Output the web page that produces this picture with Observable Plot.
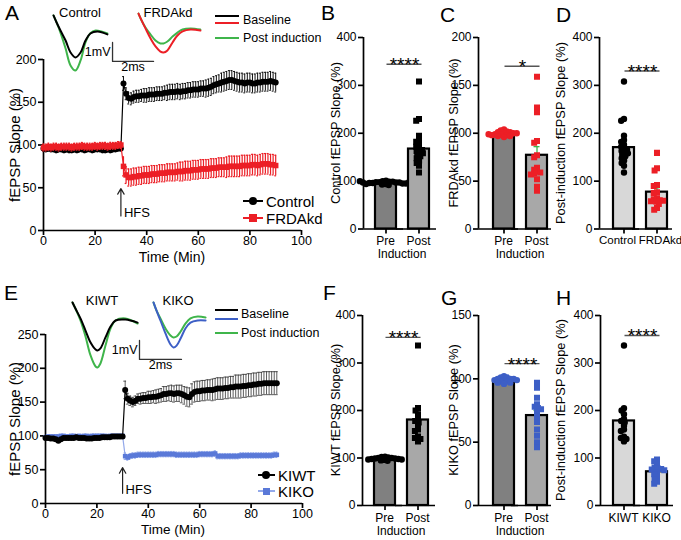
<!DOCTYPE html>
<html>
<head>
<meta charset="utf-8">
<script src="https://cdn.jsdelivr.net/npm/d3@7"></script>
<script src="https://cdn.jsdelivr.net/npm/@observablehq/plot@0.6"></script>
<style>
  html, body { margin: 0; padding: 0; background: #fff; }
  #fig { position: relative; width: 681px; height: 540px; overflow: hidden; font-family: "Liberation Sans", Arial, sans-serif; color: #000; background:#fff; }
  .t { position: absolute; white-space: nowrap; line-height: 1; }
  .sw { position: absolute; }
</style>
</head>
<body>
<div id="fig"></div>
<script>
// ================= DATA =================
const minutes = [0,1,2,3,4,5,6,7,8,9,10,11,12,13,14,15,16,17,18,19,20,21,22,23,24,25,26,27,28,29,30,
  31,32,33,34,35,36,37,38,39,40,41,42,43,44,45,46,47,48,49,50,51,52,53,54,55,56,57,58,59,60,
  61,62,63,64,65,66,67,68,69,70,71,72,73,74,75,76,77,78,79,80,81,82,83,84,85,86,87,88,89,90];

// Panel A: Control
const ctrlA = [96,95,96,95,95,94,95,95,94,95, 94,94,95,94,95,95,94,95,95,94, 95,95,95,94,94,95,94,95,95,96, 96,
  172,160,155,154,156,157,157,158,158,158,
  159,159,159,160,160,160,161,161,162,162,
  162,163,162,163,163,164,164,165,165,165,
  166,166,166,167,168,170,171,172,173,174,
  175,176,176,175,174,173,173,172,173,173,
  172,172,173,173,174,174,174,175,174,173];
const ctrlAErr = [3,3,3,3,3,3,3,3,3,3, 3,3,3,3,3,3,3,3,3,3, 3,3,3,3,3,3,3,3,3,3, 3,
  8,7,7,7,7,7,7,7,8,8,
  8,8,8,8,8,8,8,9,9,9,
  9,9,9,9,9,9,9,9,9,9,
  9,9,10,10,10,10,10,10,11,11,
  11,11,11,11,11,11,11,11,11,11,
  11,11,11,11,11,11,11,11,11,11];
// Panel A: FRDAkd
const frdA = [97,97,98,97,98,98,97,98,98,98, 98,97,98,98,98,99,98,98,98,98, 99,98,99,99,99,98,99,99,99,100, 100,
  75,65,62,62,63,63,64,64,65,65,
  65,66,66,66,67,67,67,68,68,68,
  68,69,69,69,70,70,70,71,71,71,
  72,72,72,72,73,73,73,74,74,74,
  74,75,75,75,75,75,76,76,76,76,
  77,77,76,77,78,78,78,77,77,76];
const frdAErr = [4,4,4,4,4,4,4,4,4,4, 4,4,4,4,4,4,4,4,4,4, 4,4,4,4,4,4,4,4,4,4, 4,
  11,10,10,10,10,10,10,10,10,10,
  10,10,10,10,10,10,10,10,10,10,
  10,10,11,11,11,11,11,11,11,11,
  11,11,11,11,11,11,11,11,11,11,
  12,12,12,12,12,12,12,12,12,12,
  12,12,12,12,12,12,12,12,12,12];
// Panel E: KIWT
const kiwtE = [97,97,96,96,95,93,95,97,97,97, 97,97,98,97,97,97,96,96,96,97, 97,97,98,98,98,98,99,99,99,99, 99,
  168,155,152,150,152,155,155,156,156,157,
  157,158,158,159,160,162,162,163,163,162,
  163,163,162,160,158,157,162,165,166,166,
  167,167,168,168,168,169,170,170,170,171,
  171,172,172,173,173,173,174,174,175,175,
  176,176,177,177,178,178,178,178,178,178];
const kiwtEErr = [2,2,2,2,2,2,2,2,2,2, 2,2,2,2,2,2,2,2,2,2, 2,2,2,2,2,2,2,2,2,2, 2,
  13,8,7,7,7,7,8,8,8,9,
  9,9,10,10,10,11,11,11,12,12,
  12,12,13,13,14,14,15,15,15,15,
  15,15,15,15,16,16,16,16,16,16,
  16,16,16,17,17,17,17,17,17,17,
  17,17,17,17,17,17,17,17,17,17];
// Panel E: KIKO
const kikoE = [98,99,99,99,99,99,100,100,99,99, 100,100,99,100,99,100,100,99,100,100, 100,100,100,100,99,100,100,100,100,100, 100,
  70,68,70,71,71,72,72,72,72,72,
  72,72,72,73,73,73,73,73,73,73,
  72,72,72,72,72,72,72,72,72,73,
  73,73,73,73,73,74,70,70,70,70,
  70,70,70,70,70,71,71,71,71,71,
  71,71,71,71,71,71,71,71,72,72];
const kikoEErr = [2,2,2,2,2,2,2,2,2,2, 2,2,2,2,2,2,2,2,2,2, 2,2,2,2,2,2,2,2,2,2, 2,
  5,4,4,4,4,4,4,4,4,4,
  4,4,4,4,4,4,4,4,4,4,
  4,4,4,4,4,4,4,4,4,4,
  4,4,4,4,4,4,4,4,4,4,
  4,4,4,4,4,4,4,4,4,4,
  4,4,4,4,4,4,4,4,4,4];

// Example fEPSP traces: [ms, mV]
const ctrlBaseTrace = [[0,0.95],[0.15,0.58],[0.34,0.16],[0.59,-0.37],[0.83,-1.0],[1.07,-1.26],[1.32,-1.0],[1.56,-0.37],[1.8,0],[2.15,0.1],[2.63,-0.05]];
const ctrlPostTrace = [[0,0.95],[0.15,0.58],[0.34,0.05],[0.59,-0.79],[0.83,-1.68],[1.07,-1.95],[1.32,-1.42],[1.56,-0.47],[1.8,0.02],[2.05,0.16],[2.63,0.0]];
const frdBaseTrace = [[0,0.89],[0.15,0.53],[0.34,0.11],[0.59,-0.42],[0.83,-0.84],[1.07,-1.11],[1.22,-1.16],[1.41,-1.05],[1.66,-0.63],[1.9,-0.26],[2.15,-0.05],[2.54,0.05],[3.02,0]];
const frdPostTrace = [[0,0.89],[0.15,0.53],[0.34,0.16],[0.59,-0.21],[0.83,-0.53],[1.07,-0.68],[1.22,-0.68],[1.41,-0.58],[1.66,-0.32],[1.9,-0.11],[2.15,0.05],[2.54,0.11],[3.02,0.05]];
const kiwtBaseTrace = [[0,0.95],[0.14,0.63],[0.38,0.11],[0.62,-0.53],[0.86,-1.16],[1.1,-1.53],[1.19,-1.58],[1.33,-1.47],[1.57,-0.89],[1.81,-0.32],[2.05,0],[2.52,0.05],[3.1,-0.11]];
const kiwtPostTrace = [[0,0.95],[0.14,0.63],[0.38,0],[0.62,-0.84],[0.86,-1.84],[1.1,-2.42],[1.19,-2.47],[1.33,-2.26],[1.57,-1.32],[1.81,-0.42],[2.05,0],[2.52,0.11],[3.1,-0.16]];
const kikoBaseTrace = [[0,0.95],[0.14,0.53],[0.33,0],[0.57,-0.68],[0.81,-1.26],[0.95,-1.42],[1.1,-1.32],[1.29,-0.95],[1.52,-0.42],[1.76,-0.11],[2.1,0],[2.48,0]];
const kikoPostTrace = [[0,0.95],[0.14,0.53],[0.33,0.11],[0.57,-0.42],[0.81,-0.79],[0.95,-0.89],[1.1,-0.84],[1.29,-0.58],[1.52,-0.16],[1.76,0.11],[2.1,0.21],[2.48,0.16]];
const scaleBarMs = 2, scaleBarMv = 1;

// Bar panels
const inductionGroups = ["Pre", "Post"];
const prB  = [101,100,99,99,98,98,97,97,96,96,95,95,94,94,93,97,98,96,100,92];
const poB  = [308,230,226,195,186,182,176,172,168,165,163,160,158,155,152,148,143,138,132,118];
const meanB = [97, 167], semB = [1, 10];
const prC  = [104,103,102,101,101,100,100,99,99,98,98,97,97,96,100,99];
const poC  = [159,127,122,92,90,77,75,64,62,60,59,58,57,52,44,40];
const meanC = [99, 77], semC = [1, 9];
const groupsD = ["Control", "FRDAkd"];
const meanD = [170, 77], semD = [12, 9];
const prF  = [103,102,101,100,100,99,99,98,98,97,97,96,95,94];
const poF  = [337,205,200,192,182,178,175,168,160,157,145,142,140,135];
const meanF = [99, 180], semF = [1, 15];
const prG  = [102,101,101,100,100,100,99,99,99,98,98,97,97,96];
const poG  = [97,93,85,80,78,77,76,74,70,66,60,55,50,46];
const meanG = [99, 71], semG = [1, 4];
const groupsH = ["KIWT", "KIKO"];
const meanH = [178, 71], semH = [15, 4];

// ================= STYLE / HELPERS =================
const FONT = '"Liberation Sans", Arial, sans-serif';
const RED = "#ec1f26", GREEN = "#3fb54b", BLUE = "#3d5fc6", KIKO_FILL = "#5a79d8", KIKO_ERR = "#93a9ea";
const GREY_PRE = "#808080", GREY_POST = "#a8a8a8", GREY_LIGHT = "#d8d8d8";
const STYLE = `background:transparent;font-family:${FONT};font-size:12px;color:#000;overflow:visible;`;
const fig = document.getElementById("fig");

function mount(svg, left, top) {
  svg.style.position = "absolute";
  svg.style.left = left + "px";
  svg.style.top = top + "px";
  fig.appendChild(svg);
}
function txt(s, x, y, size, anchor = "start", rotate = false) {
  const d = document.createElement("div");
  d.className = "t";
  d.textContent = s;
  d.style.left = x + "px"; d.style.top = y + "px"; d.style.fontSize = size + "px";
  const tr = anchor === "middle" ? "translate(-50%,-50%)" : anchor === "end" ? "translate(-100%,-50%)" : "translate(0,-50%)";
  d.style.transform = tr + (rotate ? " rotate(-90deg)" : "");
  fig.appendChild(d);
}
function letter(s, x, y) {
  const d = document.createElement("div");
  d.className = "t"; d.textContent = s;
  d.style.left = x + "px"; d.style.top = y + "px"; d.style.fontSize = "21px";
  fig.appendChild(d);
}
function swatchLine(x1, x2, y, color, w = 2) {
  const d = document.createElement("div");
  d.className = "sw";
  d.style.left = x1 + "px"; d.style.top = (y - w / 2) + "px";
  d.style.width = (x2 - x1) + "px"; d.style.height = w + "px"; d.style.background = color;
  fig.appendChild(d);
}
function swatchMarker(cx, cy, size, color, round) {
  const d = document.createElement("div");
  d.className = "sw";
  d.style.left = (cx - size / 2) + "px"; d.style.top = (cy - size / 2) + "px";
  d.style.width = size + "px"; d.style.height = size + "px"; d.style.background = color;
  if (round) d.style.borderRadius = "50%";
  fig.appendChild(d);
}

// ---------- time-course panel ----------
function timePanel({left, top, width, height, mL, mR, mT, mB, yMax, yTicks, series, hfs}) {
  const marks = [
    Plot.ruleX([0], {strokeWidth: 1.7}),
    Plot.ruleY([0], {strokeWidth: 1.7}),
    Plot.axisX({ticks: [0, 20, 40, 60, 80, 100], tickSize: 5, tickPadding: 1, strokeWidth: 1.7, fontSize: 12.5, label: null}),
    Plot.axisY({ticks: yTicks, tickSize: 5, tickPadding: 2, strokeWidth: 1.7, fontSize: 12.5, label: null})
  ];
  for (const s of series) {
    const rows = minutes.map((t, i) => ({t, v: s.values[i], e: s.errors[i]}));
    const cap = s.cap;
    marks.push(Plot.ruleX(rows, {x: "t", y1: d => d.v - d.e, y2: d => d.v + d.e, stroke: s.errColor, strokeWidth: s.errWidth}));
    marks.push(Plot.ruleY(rows, {y: d => d.v + d.e, x1: d => d.t - cap, x2: d => d.t + cap, stroke: s.errColor, strokeWidth: s.errWidth}));
    marks.push(Plot.ruleY(rows, {y: d => d.v - d.e, x1: d => d.t - cap, x2: d => d.t + cap, stroke: s.errColor, strokeWidth: s.errWidth}));
    marks.push(Plot.line(rows, {x: "t", y: "v", stroke: s.lineColor, strokeWidth: 1.2}));
    marks.push(Plot.dot(rows, {x: "t", y: "v", r: s.r, symbol: s.symbol, fill: s.fill, stroke: "none"}));
  }
  marks.push(Plot.arrow([hfs], {x: "time", y1: "from", y2: "to", stroke: "#222", strokeWidth: 1.2, headLength: 8}));
  marks.push(Plot.text([hfs], {x: "time", y: "from", text: () => "HFS", textAnchor: "start", lineAnchor: "bottom", dx: 3, dy: 1, fontSize: 13}));
  const svg = Plot.plot({
    width, height, marginLeft: mL, marginRight: mR, marginTop: mT, marginBottom: mB,
    x: {domain: [0, 100], axis: null}, y: {domain: [0, yMax], axis: null},
    style: STYLE, marks
  });
  mount(svg, left, top);
}

// ---------- example trace inset ----------
function tracePlot({left, top, width, height, origin, pxPerMs, pxPerMv, traces, bar}) {
  const ox = origin[0] - left, oy = origin[1] - top;
  const marks = traces.map(tr => Plot.line(tr.points, {x: d => d[0], y: d => d[1], stroke: tr.color, strokeWidth: 2, curve: "catmull-rom"}));
  if (bar) {
    const c = bar;
    const path = [[c.t, c.v + scaleBarMv], [c.t, c.v], [c.t + scaleBarMs, c.v]];
    marks.push(Plot.line(path, {x: d => d[0], y: d => d[1], stroke: "#333", strokeWidth: 1.3}));
    marks.push(Plot.text([[c.t, c.v + scaleBarMv / 2]], {x: d => d[0], y: d => d[1], text: () => scaleBarMv + "mV", textAnchor: "end", dx: -2, fontSize: 12.5}));
    marks.push(Plot.text([[c.t + scaleBarMs / 2, c.v]], {x: d => d[0], y: d => d[1], text: () => scaleBarMs + "ms", lineAnchor: "top", dy: 1, fontSize: 12.5}));
  }
  const svg = Plot.plot({
    width, height, margin: 0,
    x: {domain: [-ox / pxPerMs, (width - ox) / pxPerMs], range: [0, width], axis: null},
    y: {domain: [-(height - oy) / pxPerMv, oy / pxPerMv], range: [height, 0], axis: null},
    style: STYLE, marks
  });
  mount(svg, left, top);
}

// ---------- bar + scatter panel ----------
function barPanel(cfg) {
  const {left, top, width, height, axisX, yTop, yZero, yMax, ticks, yLabel, labelX, groups, tickLabels, subLabel,
         means, sems, points, fills, colors, symbols, inset, sigY, sigText} = cfg;
  const catShift = cfg.catShift ?? [0, 0], catSize = cfg.catSize ?? 12;
  const step = 33, barW = 21;
  const mL = axisX - left, mT = yTop - top, mB = top + height - yZero;
  const mR = width - mL - 2 * step;
  const dxBar = inset + barW / 2 - step / 2;
  const g0 = [groups[0]];
  const marks = [
    Plot.ruleY([0], {strokeWidth: 1.7, insetRight: -7}),
    Plot.axisY({ticks, tickSize: 5, tickPadding: 2, strokeWidth: 1.7, fontSize: 12, label: null}),
    Plot.ruleX(g0, {x: null, fx: d => d, dx: -step / 2, y1: () => 0, y2: () => yMax, strokeWidth: 1.7})
  ];
  groups.forEach((g, i) => {
    const bar = [{group: g, mean: means[i], sem: sems[i]}];
    marks.push(Plot.barY(bar, {fx: "group", y: "mean", fill: fills[i], stroke: "black", strokeWidth: 2.2,
      insetLeft: inset, insetRight: step - inset - barW}));
    marks.push(Plot.ruleX(bar, {x: null, fx: "group", y1: "mean", y2: d => d.mean + d.sem, stroke: GREEN, strokeWidth: 1.3, dx: dxBar}));
    marks.push(Plot.tickY(bar, {fx: "group", y: d => d.mean + d.sem, stroke: GREEN, strokeWidth: 1.3,
      insetLeft: inset + barW / 2 - 3, insetRight: step - inset - barW / 2 - 3}));
    marks.push(Plot.dot(points[i].map(v => ({group: g, value: v})),
      Plot.dodgeX({anchor: "middle", padding: 0}, {fx: "group", y: "value", r: 1.7, symbol: symbols[i],
        fill: colors[i], stroke: colors[i], strokeWidth: 3, strokeLinejoin: "miter", dx: dxBar})));
    marks.push(Plot.ruleX(bar, {x: null, fx: "group", y1: () => 0, y2: () => 0, insetBottom: -5, dx: dxBar, strokeWidth: 1.7}));
    txt(tickLabels[i], axisX + inset + barW / 2 + i * step + catShift[i], yZero + 12.5, catSize, "middle");
  });
  if (subLabel) txt(subLabel, axisX + inset + barW / 2 + step / 2, yZero + 25.5, 12, "middle");
  marks.push(Plot.ruleY(g0, {fx: d => d, y: () => sigY, stroke: "#555", strokeWidth: 1.4,
    insetLeft: inset + barW / 2 + 1, insetRight: -(inset + barW / 2 + 3)}));
  marks.push(Plot.text(g0, {fx: d => d, y: () => sigY, text: () => sigText, lineAnchor: "bottom", dx: inset + barW / 2 + 2, dy: 7, fontSize: 19}));
  txt(yLabel, labelX, (yTop + yZero) / 2, 12.8, "middle", true);
  const svg = Plot.plot({
    width, height, marginLeft: mL, marginRight: mR, marginTop: mT, marginBottom: mB,
    fx: {domain: groups, padding: 0, axis: null, label: null},
    x: {axis: null},
    y: {domain: [0, yMax], axis: null},
    style: STYLE, marks
  });
  mount(svg, left, top);
}

// ================= BUILD =================
// Panel A
timePanel({left: 0, top: 0, width: 330, height: 270, mL: 43, mR: 29, mT: 59, mB: 40, yMax: 200, yTicks: [0, 50, 100, 150, 200],
  series: [
    {values: ctrlA, errors: ctrlAErr, errColor: "#111", errWidth: 1, lineColor: "#000", r: 3, symbol: "circle", fill: "#000", cap: 0.35},
    {values: frdA, errors: frdAErr, errColor: RED, errWidth: 1.2, lineColor: RED, r: 3.1, symbol: "square", fill: RED, cap: 0.35}
  ],
  hfs: {time: 30, from: 17, to: 49}});
txt("fEPSP Slope (%)", 14, 145, 15, "middle", true);
txt("Time (Min)", 172, 257, 14, "middle");
tracePlot({left: 46, top: 4, width: 114, height: 76, origin: [53, 33], pxPerMs: 20.5, pxPerMv: 19,
  traces: [{points: ctrlPostTrace, color: GREEN}, {points: ctrlBaseTrace, color: "#000"}],
  bar: {t: 2.88, v: -1.47}});
tracePlot({left: 132, top: 4, width: 76, height: 60, origin: [138, 30], pxPerMs: 20.5, pxPerMv: 19,
  traces: [{points: frdPostTrace, color: GREEN}, {points: frdBaseTrace, color: RED}]});
txt("Control", 80, 12, 13, "middle");
txt("FRDAkd", 168, 12, 13, "middle");
swatchLine(215, 239, 16, "#000"); swatchLine(215, 239, 23, RED); swatchLine(215, 239, 38, GREEN);
txt("Baseline", 243, 20, 12.5); txt("Post induction", 243, 38, 12.5);
swatchLine(243, 263, 201, "#000", 1.5); swatchMarker(253, 201, 8, "#000", true); txt("Control", 266, 201, 15);
swatchLine(243, 263, 218, RED, 1.5); swatchMarker(253, 218, 8, RED, false); txt("FRDAkd", 266, 218, 15);

// Panel E
timePanel({left: 0, top: 270, width: 330, height: 270, mL: 45, mR: 28, mT: 64, mB: 37, yMax: 250, yTicks: [0, 50, 100, 150, 200, 250],
  series: [
    {values: kikoE, errors: kikoEErr, errColor: KIKO_ERR, errWidth: 1, lineColor: KIKO_ERR, r: 2.6, symbol: "square", fill: KIKO_FILL, cap: 0.4},
    {values: kiwtE, errors: kiwtEErr, errColor: "#333", errWidth: 0.8, lineColor: "#000", r: 3, symbol: "circle", fill: "#000", cap: 0.55}
  ],
  hfs: {time: 30, from: 15, to: 53}});
txt("fEPSP Slope (%)", 14, 419, 15, "middle", true);
txt("Time (Min)", 173, 530, 13.5, "middle");
tracePlot({left: 66, top: 294, width: 122, height: 80, origin: [72, 320], pxPerMs: 21, pxPerMv: 19,
  traces: [{points: kiwtPostTrace, color: GREEN}, {points: kiwtBaseTrace, color: "#000"}],
  bar: {t: 3.19, v: -2.05}});
tracePlot({left: 148, top: 294, width: 62, height: 60, origin: [153, 320], pxPerMs: 21, pxPerMv: 19,
  traces: [{points: kikoPostTrace, color: GREEN}, {points: kikoBaseTrace, color: BLUE}]});
txt("KIWT", 102, 300, 13, "middle");
txt("KIKO", 178, 300, 13, "middle");
swatchLine(215, 238, 310, "#000"); swatchLine(215, 238, 319, BLUE); swatchLine(215, 238, 333, GREEN);
txt("Baseline", 241, 314, 12.5); txt("Post induction", 241, 333, 12.5);
swatchLine(258, 275, 475, "#000", 1.5); swatchMarker(266, 475, 8, "#000", true); txt("KIWT", 278, 475, 15);
swatchLine(258, 275, 491, KIKO_ERR, 1.5); swatchMarker(266, 491, 7, KIKO_FILL, false); txt("KIKO", 278, 491, 15);

// Bar panels (top row)
barPanel({left: 325, top: 0, width: 125, height: 270, axisX: 363, yTop: 37, yZero: 228.5, yMax: 400, ticks: [0, 100, 200, 300, 400],
  yLabel: "Control fEPSP Slope (%)", labelX: 336, groups: inductionGroups, tickLabels: ["Pre", "Post"], subLabel: "Induction",
  means: meanB, sems: semB, points: [prB, poB], fills: [GREY_PRE, GREY_POST], colors: ["#000", "#000"], symbols: ["circle", "square"],
  inset: 12, sigY: 344, sigText: "****"});
barPanel({left: 443, top: 0, width: 120, height: 270, axisX: 478, yTop: 37, yZero: 228.5, yMax: 200, ticks: [0, 50, 100, 150, 200],
  yLabel: "FRDAkd fEPSP Slope (%)", labelX: 454, groups: inductionGroups, tickLabels: ["Pre", "Post"], subLabel: "Induction",
  means: meanC, sems: semC, points: [prC, poC], fills: [GREY_PRE, GREY_POST], colors: [RED, RED], symbols: ["circle", "square"],
  inset: 15, sigY: 170, sigText: "*"});
barPanel({left: 556, top: 0, width: 125, height: 270, axisX: 599, yTop: 37, yZero: 228.5, yMax: 400, ticks: [0, 100, 200, 300, 400],
  yLabel: "Post-induction fEPSP Slope (%)", labelX: 561, groups: groupsD, tickLabels: groupsD, subLabel: null,
  catShift: [-6, 4], catSize: 11.5,
  means: meanD, sems: semD, points: [poB, poC], fills: [GREY_LIGHT, GREY_LIGHT], colors: ["#000", RED], symbols: ["circle", "square"],
  inset: 14, sigY: 330, sigText: "****"});
// Bar panels (bottom row)
barPanel({left: 325, top: 270, width: 125, height: 270, axisX: 362, yTop: 315, yZero: 505, yMax: 400, ticks: [0, 100, 200, 300, 400],
  yLabel: "KIWT fEPSP Slope (%)", labelX: 336, groups: inductionGroups, tickLabels: ["Pre", "Post"], subLabel: "Induction",
  means: meanF, sems: semF, points: [prF, poF], fills: [GREY_PRE, GREY_POST], colors: ["#000", "#000"], symbols: ["circle", "square"],
  inset: 12, sigY: 354, sigText: "****"});
barPanel({left: 443, top: 270, width: 120, height: 270, axisX: 478, yTop: 315, yZero: 505, yMax: 150, ticks: [0, 50, 100, 150],
  yLabel: "KIKO fEPSP Slope (%)", labelX: 454, groups: inductionGroups, tickLabels: ["Pre", "Post"], subLabel: "Induction",
  means: meanG, sems: semG, points: [prG, poG], fills: [GREY_PRE, GREY_POST], colors: [BLUE, BLUE], symbols: ["circle", "square"],
  inset: 15, sigY: 112, sigText: "****"});
barPanel({left: 556, top: 270, width: 125, height: 270, axisX: 600, yTop: 315, yZero: 505, yMax: 400, ticks: [0, 100, 200, 300, 400],
  yLabel: "Post-induction fEPSP Slope (%)", labelX: 561, groups: groupsH, tickLabels: groupsH, subLabel: null,
  means: meanH, sems: semH, points: [poF, poG], fills: [GREY_LIGHT, GREY_LIGHT], colors: ["#000", BLUE], symbols: ["circle", "square"],
  inset: 13, sigY: 358, sigText: "****"});

// Panel letters
letter("A", 5, 2); letter("B", 321, 2); letter("C", 440, 4); letter("D", 556, 4);
letter("E", 4, 282); letter("F", 323, 282); letter("G", 441, 287); letter("H", 556, 287);
</script>
</body>
</html>
